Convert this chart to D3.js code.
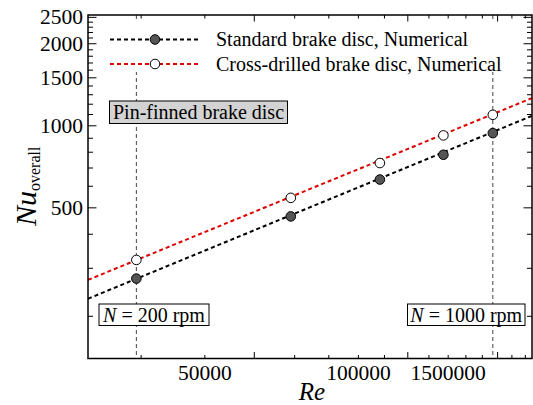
<!DOCTYPE html>
<html>
<head>
<meta charset="utf-8">
<script src="https://cdnjs.cloudflare.com/ajax/libs/d3/7.8.5/d3.min.js"></script>
<style>
  body { margin: 0; background: #fff; }
  svg text { font-family: "Liberation Serif", "Times New Roman", serif; fill: #000; }
</style>
</head>
<body>
<div class="chart"></div>
<script>
  // rotational speeds and Reynolds numbers
  var speeds = [200, 400, 600, 800, 1000];
  var reValues = [36700, 73700, 110200, 146800, 183500];
  var nuStandard = [275, 465, 635, 783, 940];
  var nuDrilled = [322, 544, 730, 922, 1097];

  // fitted trend lines, end points
  var fitStandard = [[29500, 232], [219000, 1088]];
  var fitDrilled = [[29500, 272], [219000, 1264]];

  // tick values
  var xTicks = [37500, 50000, 62500, 75000, 87500, 100000, 112500, 125000, 137500, 150000, 162500, 175000, 187500, 200000, 212500];
  var xMajor = [62500, 125000, 187500];
  var xLabels = [50000, 100000, 150000];
  var xLabelText = ["50000", "100000", "1500000"];
  var yTicks = d3.range(200, 2501, 100);
  var yMajor = [500, 1000, 1500, 2000, 2500];
  var yLabels = [500, 1000, 1500, 2000, 2500];

  function drawChart() {
    var width = 533, height = 405;
    var pLeft = 88, pRight = 532, pTop = 15, pBottom = 358.5;

    var svg = d3.select(".chart").append("svg")
      .attr("width", width)
      .attr("height", height);

    var x = d3.scaleLog().domain([29500, 219000]).range([pLeft, pRight]);
    var y = d3.scaleLog().domain([140, 2550]).range([pBottom, pTop]);

    // vertical dashed guides at N = 200 and N = 1000 rpm
    var guides = [reValues[0], reValues[reValues.length - 1]];
    svg.selectAll(".guide")
      .data(guides)
      .enter().append("line")
      .attr("class", "guide")
      .attr("x1", function(d) { return x(d); })
      .attr("x2", function(d) { return x(d); })
      .attr("y1", pTop)
      .attr("y2", pBottom)
      .style("stroke", "#444")
      .style("stroke-width", 1)
      .style("stroke-dasharray", "4,3");

    var line = d3.line()
      .x(function(d) { return x(d[0]); })
      .y(function(d) { return y(d[1]); });

    svg.append("clipPath").attr("id", "plotclip")
      .append("rect")
      .attr("x", pLeft).attr("y", pTop)
      .attr("width", pRight - pLeft).attr("height", pBottom - pTop);

    svg.append("path")
      .datum(fitStandard)
      .attr("d", line)
      .attr("clip-path", "url(#plotclip)")
      .style("fill", "none")
      .style("stroke", "#000")
      .style("stroke-width", 2)
      .style("stroke-dasharray", "4,3");

    svg.append("path")
      .datum(fitDrilled)
      .attr("d", line)
      .attr("clip-path", "url(#plotclip)")
      .style("fill", "none")
      .style("stroke", "#e00000")
      .style("stroke-width", 2)
      .style("stroke-dasharray", "4,3");

    svg.selectAll(".pt-std")
      .data(reValues)
      .enter().append("circle")
      .attr("class", "pt-std")
      .attr("cx", function(d) { return x(d); })
      .attr("cy", function(d, i) { return y(nuStandard[i]); })
      .attr("r", 4.8)
      .style("fill", "#555")
      .style("stroke", "#000")
      .style("stroke-width", 1);

    svg.selectAll(".pt-drl")
      .data(reValues)
      .enter().append("circle")
      .attr("class", "pt-drl")
      .attr("cx", function(d) { return x(d); })
      .attr("cy", function(d, i) { return y(nuDrilled[i]); })
      .attr("r", 4.8)
      .style("fill", "#fff")
      .style("stroke", "#000")
      .style("stroke-width", 1);

    // legend (white background hides the guides)
    var legend = svg.append("g");
    legend.append("rect")
      .attr("x", 100).attr("y", 22)
      .attr("width", 408).attr("height", 50)
      .style("fill", "#fff");

    var legendRows = [
      { label: "Standard brake disc, Numerical", color: "#000", fill: "#555", y: 39.5 },
      { label: "Cross-drilled brake disc, Numerical", color: "#e00000", fill: "#fff", y: 64 }
    ];
    legendRows.forEach(function(d) {
      legend.append("line")
        .attr("x1", 110).attr("x2", 201)
        .attr("y1", d.y).attr("y2", d.y)
        .style("stroke", d.color)
        .style("stroke-width", 2)
        .style("stroke-dasharray", "4,3");
      legend.append("circle")
        .attr("cx", 155).attr("cy", d.y).attr("r", 4.8)
        .style("fill", d.fill)
        .style("stroke", "#000");
      legend.append("text")
        .attr("x", 216).attr("y", d.y + 6.5)
        .style("font-size", "20px")
        .text(d.label);
    });

    // annotation boxes
    svg.append("rect")
      .attr("x", 109.5).attr("y", 101)
      .attr("width", 178).attr("height", 22.5)
      .style("fill", "#d3d3d3")
      .style("stroke", "#000")
      .style("stroke-width", 1);
    svg.append("text")
      .attr("x", 198.5).attr("y", 119)
      .attr("text-anchor", "middle")
      .style("font-size", "20px")
      .text("Pin-finned brake disc");

    var rpmBoxes = [
      { n: speeds[0], x: 99, w: 110 },
      { n: speeds[speeds.length - 1], x: 407.5, w: 117.5 }
    ];
    rpmBoxes.forEach(function(d) {
      svg.append("rect")
        .attr("x", d.x).attr("y", 304)
        .attr("width", d.w).attr("height", 21.5)
        .style("fill", "#fff")
        .style("stroke", "#000")
        .style("stroke-width", 1);
      var t = svg.append("text")
        .attr("x", d.x + d.w / 2).attr("y", 321.5)
        .attr("text-anchor", "middle")
        .style("font-size", "20px");
      t.append("tspan").style("font-style", "italic").text("N");
      t.append("tspan").text(" = " + d.n + " rpm");
    });

    // ticks on all four sides, pointing inwards
    var ticks = svg.append("g").style("stroke", "#000").style("stroke-width", 1);
    function xLen(d) { return xMajor.indexOf(d) >= 0 ? 6.5 : 3.5; }
    function yLen(d) { return yMajor.indexOf(d) >= 0 ? 8.5 : 5; }

    ticks.selectAll(".xb").data(xTicks).enter().append("line")
      .attr("x1", function(d) { return x(d); }).attr("x2", function(d) { return x(d); })
      .attr("y1", pBottom).attr("y2", function(d) { return pBottom - xLen(d); });
    ticks.selectAll(".xt").data(xTicks).enter().append("line")
      .attr("x1", function(d) { return x(d); }).attr("x2", function(d) { return x(d); })
      .attr("y1", pTop).attr("y2", function(d) { return pTop + xLen(d); });
    ticks.selectAll(".yl").data(yTicks).enter().append("line")
      .attr("y1", function(d) { return y(d); }).attr("y2", function(d) { return y(d); })
      .attr("x1", pLeft).attr("x2", function(d) { return pLeft + yLen(d); });
    ticks.selectAll(".yr").data(yTicks).enter().append("line")
      .attr("y1", function(d) { return y(d); }).attr("y2", function(d) { return y(d); })
      .attr("x1", pRight).attr("x2", function(d) { return pRight - yLen(d); });

    // frame
    svg.append("rect")
      .attr("x", pLeft).attr("y", pTop)
      .attr("width", pRight - pLeft).attr("height", pBottom - pTop)
      .style("fill", "none")
      .style("stroke", "#000")
      .style("stroke-width", 1.5);

    // tick labels
    svg.selectAll(".xlab").data(xLabels).enter().append("text")
      .attr("x", function(d) { return x(d); })
      .attr("y", 379.5)
      .attr("text-anchor", "middle")
      .style("font-size", "21.5px")
      .text(function(d, i) { return xLabelText[i]; });

    svg.selectAll(".ylab").data(yLabels).enter().append("text")
      .attr("x", 83)
      .attr("y", function(d) { return y(d) + 7; })
      .attr("text-anchor", "end")
      .style("font-size", "21.5px")
      .text(function(d) { return d; });

    // axis titles
    svg.append("text")
      .attr("x", 312).attr("y", 400)
      .attr("text-anchor", "middle")
      .style("font-size", "25px")
      .style("font-style", "italic")
      .text("Re");

    var yt = svg.append("text")
      .attr("transform", "translate(36,226) rotate(-90)")
      .attr("text-anchor", "start");
    yt.append("tspan").style("font-size", "30px").style("font-style", "italic").text("Nu");
    yt.append("tspan").attr("dy", 4).style("font-size", "16px").text("overall");
  }

  drawChart();
</script>
</body>
</html>
